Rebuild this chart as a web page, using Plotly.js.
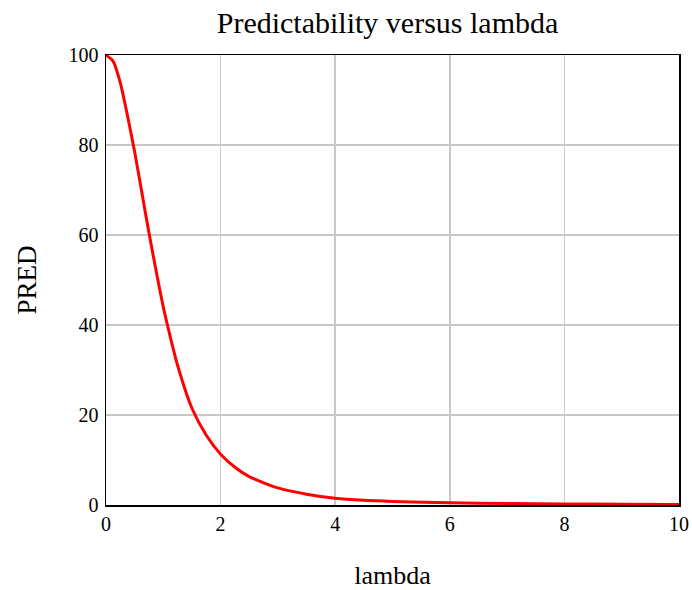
<!DOCTYPE html>
<html>
<head>
<meta charset="utf-8">
<script src="https://cdn.plot.ly/plotly-3.0.1.min.js"></script>
<style>
  html, body { margin: 0; padding: 0; background: #ffffff; }
  #chart { width: 692px; height: 590px; }
</style>
</head>
<body>
<div id="chart"></div>
<script>
// Predictability (PRED, %) sampled along lambda
const lambdaValues = [0, 0.125, 0.25, 0.375, 0.5, 0.625, 0.75, 0.875, 1.0, 1.125, 1.25, 1.5, 1.75, 2.0, 2.25, 2.5, 3.0, 3.5, 4.0, 4.5, 5.0, 6.0, 7.0, 8.0, 9.0, 10.0];
const predValues   = [100, 98.6, 93.8, 86.5, 78.5, 69.5, 60.5, 52.0, 44.0, 37.2, 31.0, 21.5, 15.5, 11.3, 8.4, 6.3, 3.8, 2.4, 1.5, 1.05, 0.8, 0.5, 0.35, 0.25, 0.18, 0.13];

const xTicks = [0, 2, 4, 6, 8, 10];
const yTicks = [0, 20, 40, 60, 80, 100];

const serif = 'Liberation Serif, Times New Roman, serif';

const trace = {
  x: lambdaValues,
  y: predValues,
  type: 'scatter',
  mode: 'lines',
  line: { color: '#ff0000', width: 3, shape: 'spline', smoothing: 0.7 },
  hoverinfo: 'skip'
};

const layout = {
  width: 692,
  height: 590,
  paper_bgcolor: '#ffffff',
  plot_bgcolor: '#ffffff',
  margin: { l: 106, r: 13, t: 55, b: 85 },
  showlegend: false,
  title: {
    text: 'Predictability versus lambda',
    font: { family: serif, size: 30, color: '#000000' },
    x: 0.56, xanchor: 'center',
    y: 1 - 22 / 590, yanchor: 'middle', yref: 'container'
  },
  xaxis: {
    range: [0, 10],
    tickvals: xTicks,
    ticktext: xTicks.map(String),
    showgrid: true,
    gridcolor: '#c8c8c8',
    gridwidth: 1.5,
    zeroline: false,
    showline: true,
    mirror: true,
    linecolor: '#000000',
    linewidth: 1.5,
    ticks: '',
    ticklabelstandoff: 0,
    tickfont: { family: serif, size: 20, color: '#000000' },
    title: {
      text: 'lambda',
      font: { family: serif, size: 26, color: '#000000' },
      standoff: 32
    }
  },
  yaxis: {
    range: [0, 100],
    tickvals: yTicks,
    ticktext: yTicks.map(String),
    showgrid: true,
    gridcolor: '#c8c8c8',
    gridwidth: 1.5,
    zeroline: false,
    showline: true,
    mirror: true,
    linecolor: '#000000',
    linewidth: 1.5,
    ticks: '',
    ticklabelstandoff: 2,
    tickfont: { family: serif, size: 20, color: '#000000' },
    title: {
      text: 'PRED',
      font: { family: serif, size: 27, color: '#000000' },
      standoff: 24
    }
  }
};

Plotly.newPlot('chart', [trace], layout, { displayModeBar: false, staticPlot: true });
</script>
</body>
</html>
